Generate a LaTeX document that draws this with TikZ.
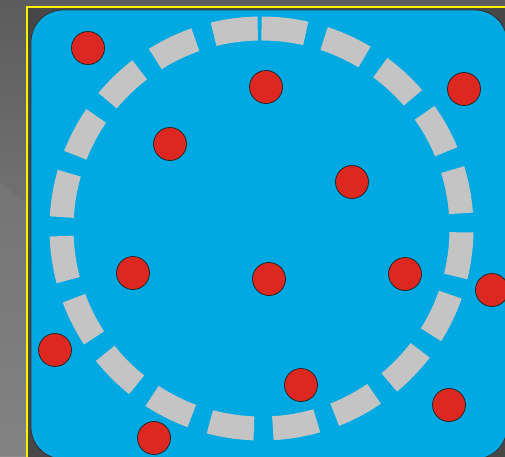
\documentclass[tikz,border=0pt]{standalone}
\usepackage{tikz}

\definecolor{poolblue}{HTML}{00A9E1}
\definecolor{ringgray}{HTML}{C4C4C4}
\definecolor{dotred}{HTML}{DC2820}

\tikzset{
    dot/.style={circle, fill=dotred, draw=black!85, line width=0.8pt,
        minimum size=33pt, inner sep=0pt},
    ring/.style={draw=ringgray, line width=24pt, dash pattern=on 44.6pt off 19pt}
}

\begin{document}
\begin{tikzpicture}[x=1pt,y=-1pt]
    \useasboundingbox (0,0) rectangle (505,456);

    % backdrop
    \fill[top color=black!64, bottom color=black!45] (0,0) rectangle (505,456);
    \fill[black!52, opacity=0.5] (0,183) -- (28,204) -- (28,456) -- (0,456) -- cycle;
    \fill[black!72] (28,8) rectangle (510,462);
    \draw[yellow, line width=2pt] (27,7) rectangle (520,470);

    % pool
    \draw[fill=poolblue, draw=black!80, line width=0.8pt, rounded corners=32pt]
        (31,10) rectangle (507,459);

    % dashed ring
    \coordinate (centre) at (261.5,228.5);
    \draw[ring] (centre) ++(-90:200) arc[start angle=-90, end angle=270, radius=200];

    % dots
    \node[dot] (p1) at (88,48) {};
    \node[dot] (p2) at (266,87) {};
    \node[dot] (p3) at (464,89) {};
    \node[dot] (p4) at (170,144) {};
    \node[dot] (p5) at (352,182) {};
    \node[dot] (p6) at (133,273) {};
    \node[dot] (p7) at (269,279) {};
    \node[dot] (p8) at (405,274) {};
    \node[dot] (p9) at (492,290) {};
    \node[dot] (p10) at (55,350) {};
    \node[dot] (p11) at (301,385) {};
    \node[dot] (p12) at (449,405) {};
    \node[dot] (p13) at (154,438) {};
\end{tikzpicture}
\end{document}
